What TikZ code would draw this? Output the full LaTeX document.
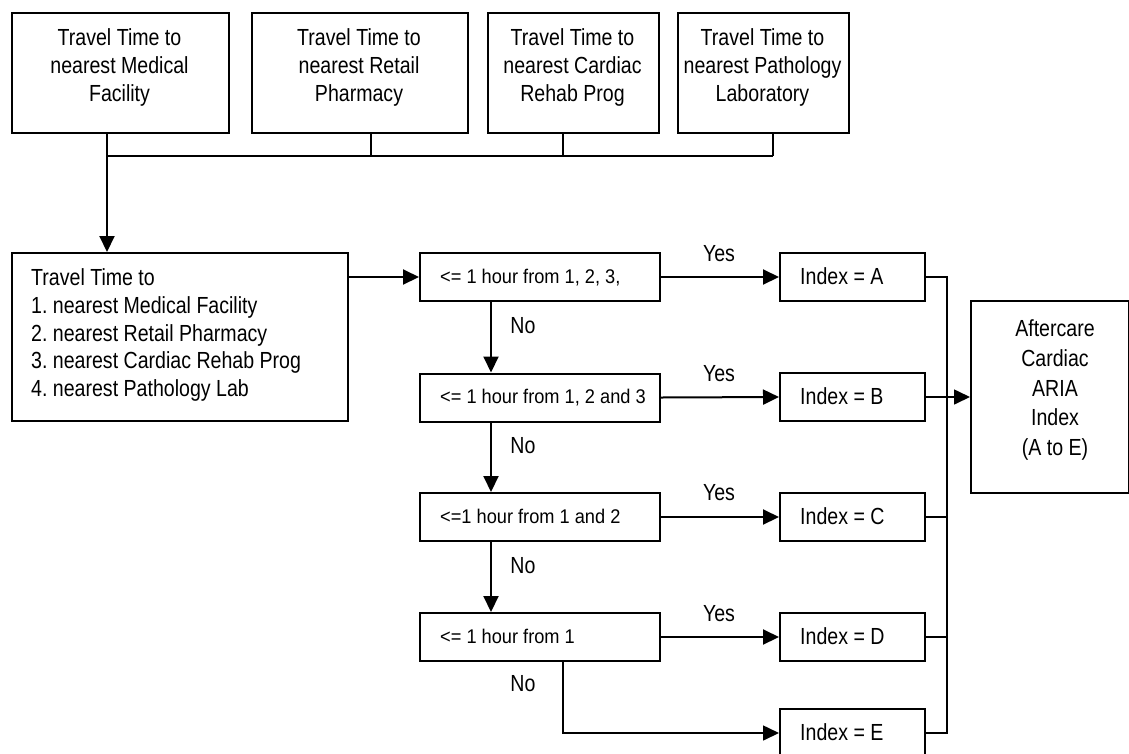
\documentclass[tikz,border=0pt]{standalone}
\usepackage{fontspec}
\setmainfont[FakeStretch=0.84]{Liberation Sans}
\newfontfamily\decfont[FakeStretch=0.92]{Liberation Sans}
\usetikzlibrary{arrows.meta}
\begin{document}
\begin{tikzpicture}[x=1pt,y=-1pt,
  box/.style={draw,line width=2pt,inner sep=0pt,anchor=north west},
  arr/.style={line width=2pt,-{Triangle[length=16pt,width=15pt]}},
  thin/.style={line width=1.4pt},
  main/.style={inner sep=0pt,font=\fontsize{23.3}{27.7}\selectfont},
  dec/.style={inner sep=0pt,font=\decfont\fontsize{19.8}{24}\selectfont,anchor=base west},
  idx/.style={inner sep=0pt,font=\fontsize{23.3}{27.7}\selectfont,anchor=base west},
  lab/.style={inner sep=0pt,font=\fontsize{23.3}{27.7}\selectfont,anchor=base}]
\useasboundingbox (0,0) rectangle (1129,753);
\clip (0,0) rectangle (1129,753);
\fill[white] (0,0) rectangle (1129,753);
% top boxes
\node[box,minimum width=217pt,minimum height=120pt] (t1) at (11,12) {};
\node[box,minimum width=216pt,minimum height=120pt] (t2) at (251,12) {};
\node[box,minimum width=171pt,minimum height=120pt] (t3) at (487,12) {};
\node[box,minimum width=171pt,minimum height=120pt] (t4) at (677,12) {};
\node[main,align=center,anchor=north] (t1t) at (119.5,28.6) {Travel Time to\\nearest Medical\\Facility};
\node[main,align=center,anchor=north] (t2t) at (359,28.6) {Travel Time to\\nearest Retail\\Pharmacy};
\node[main,align=center,anchor=north] (t3t) at (572.5,28.6) {Travel Time to\\nearest Cardiac\\Rehab Prog};
\node[main,align=center,anchor=north] (t4t) at (762.5,28.6) {Travel Time to\\nearest Pathology\\Laboratory};
% bus coordinates
\coordinate (s1) at (107,156);
\coordinate (s2) at (371,156);
\coordinate (s3) at (563,156);
\coordinate (s4) at (773,156);
% input box
\node[box,minimum width=336pt,minimum height=168pt] (in) at (11,252) {};
\node[main,align=left,anchor=north west] (intext) at (31,268.7) {Travel Time to\\1.\ nearest Medical Facility\\2.\ nearest Retail Pharmacy\\3.\ nearest Cardiac Rehab Prog\\4.\ nearest Pathology Lab};
% decisions
\node[box,minimum width=240pt,minimum height=48pt] (d1) at (419,252) {};
\node[box,minimum width=240pt,minimum height=48pt] (d2) at (419,372.5) {};
\node[box,minimum width=240pt,minimum height=48pt] (d3) at (419,492) {};
\node[box,minimum width=240pt,minimum height=48pt] (d4) at (419,612) {};
\node[dec] (d1t) at (440,283) {<= 1 hour from 1, 2, 3,};
\node[dec] (d2t) at (440,403.5) {<= 1 hour from 1, 2 and 3};
\node[dec] (d3t) at (440,523) {<=1 hour from 1 and 2};
\node[dec] (d4t) at (440,643) {<= 1 hour from 1};
% index boxes
\node[box,minimum width=145pt,minimum height=48pt] (iA) at (779,252) {};
\node[box,minimum width=145pt,minimum height=48pt] (iB) at (779,372) {};
\node[box,minimum width=145pt,minimum height=48pt] (iC) at (779,492) {};
\node[box,minimum width=145pt,minimum height=48pt] (iD) at (779,612) {};
\node[box,minimum width=145pt,minimum height=48pt] (iE) at (779,708) {};
\node[idx] (iAt) at (800,284.3) {Index = A};
\node[idx] (iBt) at (800,404.3) {Index = B};
\node[idx] (iCt) at (800,524.3) {Index = C};
\node[idx] (iDt) at (800,644.3) {Index = D};
\node[idx] (iEt) at (800,740.3) {Index = E};
% output
\node[box,minimum width=158pt,minimum height=192pt] (out) at (970,300) {};
\node[main,align=center,anchor=north,font=\fontsize{23.3}{29.7}\selectfont] (outt) at (1055,319.7) {Aftercare\\Cardiac\\ARIA\\Index\\(A to E)};
% labels
\node[lab] (y1) at (719,261) {Yes};
\node[lab] (y2) at (719,381) {Yes};
\node[lab] (y3) at (719,500) {Yes};
\node[lab] (y4) at (719,621) {Yes};
\node[lab] (n1) at (523,333) {No};
\node[lab] (n2) at (523,453) {No};
\node[lab] (n3) at (523,573) {No};
\node[lab] (n4) at (523,691) {No};
% connectors top
\draw[line width=2pt] (t1.south -| s1) -- (s1);
\draw[thin] (t2.south -| s2) -- (s2);
\draw[thin] (t3.south -| s3) -- (s3);
\draw[thin] (t4.south -| s4) -- (s4);
\draw[thin] (s1) -- (s4);
\draw[arr] (s1) -- (in.north -| s1);
\draw[arr] (in.east |- d1.west) -- (d1.west);
% no arrows
\coordinate (nx) at (491,0);
\coordinate (ex) at (563,0);
\coordinate (bx) at (947,0);
\draw[arr] (d1.south -| nx) -- (d2.north -| nx);
\draw[arr] (d2.south -| nx) -- (d3.north -| nx);
\draw[arr] (d3.south -| nx) -- (d4.north -| nx);
\draw[arr,line width=1.6pt] (d4.south -| ex) |- (iE.west);
% yes arrows
\draw[arr] (d1.east) -- (iA.west);
\draw[arr] (d2.east) -- (iB.west);
\draw[arr] (d3.east) -- (iC.west);
\draw[arr] (d4.east) -- (iD.west);
% right bus
\draw[thin] (iA.east) -- (iA.east -| bx) -- (iE.east -| bx) -- (iE.east);
\draw[thin] (iC.east) -- (iC.east -| bx);
\draw[thin] (iD.east) -- (iD.east -| bx);
\draw[arr,line width=1.6pt] (iB.east) -- (out.west);
\end{tikzpicture}
\end{document}
